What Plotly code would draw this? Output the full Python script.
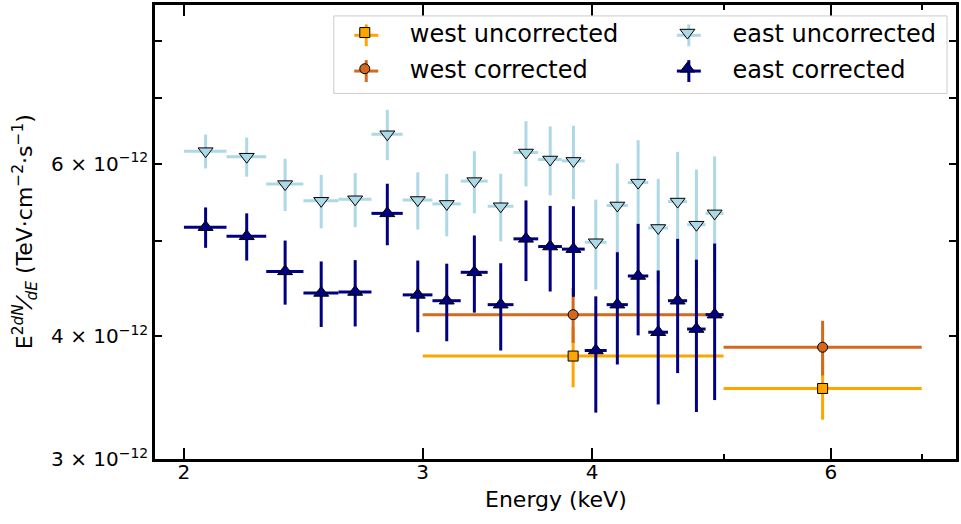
import plotly.graph_objects as go

# ---------------- data ----------------
east_energy = [2.075, 2.225, 2.375, 2.525, 2.675, 2.825, 2.975, 3.125, 3.275, 3.425,
               3.575, 3.725, 3.875, 4.025, 4.175, 4.325, 4.475, 4.625, 4.775, 4.925]
east_energy_err = [0.075] * 20

east_uncorr = [6.18e-12, 6.10e-12, 5.72e-12, 5.50e-12, 5.52e-12, 6.43e-12, 5.51e-12, 5.46e-12, 5.76e-12, 5.43e-12,
               6.16e-12, 6.06e-12, 6.04e-12, 4.99e-12, 5.44e-12, 5.74e-12, 5.16e-12, 5.49e-12, 5.20e-12, 5.34e-12]
east_uncorr_err = [0.245e-12, 0.28e-12, 0.35e-12, 0.345e-12, 0.35e-12, 0.38e-12, 0.37e-12, 0.40e-12, 0.42e-12, 0.43e-12,
                   0.47e-12, 0.49e-12, 0.52e-12, 0.525e-12, 0.565e-12, 0.60e-12, 0.63e-12, 0.68e-12, 0.72e-12, 0.765e-12]

east_corr = [5.17e-12, 5.06e-12, 4.66e-12, 4.43e-12, 4.44e-12, 5.34e-12, 4.41e-12, 4.35e-12, 4.65e-12, 4.31e-12,
             5.03e-12, 4.94e-12, 4.91e-12, 3.87e-12, 4.31e-12, 4.61e-12, 4.04e-12, 4.35e-12, 4.07e-12, 4.21e-12]
east_corr_err = [0.245e-12, 0.28e-12, 0.35e-12, 0.34e-12, 0.345e-12, 0.385e-12, 0.37e-12, 0.395e-12, 0.42e-12, 0.44e-12,
                 0.475e-12, 0.495e-12, 0.52e-12, 0.525e-12, 0.565e-12, 0.60e-12, 0.63e-12, 0.68e-12, 0.72e-12, 0.765e-12]

west_energy = [3.873, 5.916]
west_energy_err_minus = [0.873, 0.916]
west_energy_err_plus = [1.127, 1.084]

west_uncorr = [3.82e-12, 3.54e-12]
west_uncorr_err = [0.27e-12, 0.25e-12]
west_corr = [4.21e-12, 3.90e-12]
west_corr_err = [0.27e-12, 0.25e-12]

x_ticks = [2, 3, 4, 6]
x_ticklabels = ["2", "3", "4", "6"]
x_minor = [5, 7]
y_ticks = [3e-12, 4e-12, 6e-12]
y_ticklabels = ["3 × 10<sup>−12</sup>", "4 × 10<sup>−12</sup>", "6 × 10<sup>−12</sup>"]
y_minor = [5e-12, 7e-12, 8e-12]

FONT = "DejaVu Sans"
C_WU, C_WC, C_EU, C_EC = "#FFA500", "#D2691E", "#ADD8E6", "#000080"

fig = go.Figure()


def add_series(name, x, y, yerr, color, symbol, size, legend, xerr=None, xerr_minus=None, xerr_plus=None):
    if xerr is not None:
        ex = dict(type="data", array=xerr, color=color, thickness=3, width=0, symmetric=True)
    else:
        ex = dict(type="data", array=xerr_plus, arrayminus=xerr_minus, color=color,
                  thickness=3, width=0, symmetric=False)
    fig.add_trace(go.Scatter(
        x=x, y=y, mode="markers", name=name, legend=legend, legendgroup=name,
        marker=dict(color=color, symbol=symbol, size=size, line=dict(color="black", width=1)),
        error_y=dict(type="data", array=yerr, color=color, thickness=3, width=0),
        error_x=ex,
    ))


add_series("west uncorrected", west_energy, west_uncorr, west_uncorr_err, C_WU, "square", 10, "legend",
           xerr_minus=west_energy_err_minus, xerr_plus=west_energy_err_plus)
add_series("west corrected", west_energy, west_corr, west_corr_err, C_WC, "circle", 10, "legend",
           xerr_minus=west_energy_err_minus, xerr_plus=west_energy_err_plus)
add_series("east uncorrected", east_energy, east_uncorr, east_uncorr_err, C_EU, "triangle-down", 13, "legend2",
           xerr=east_energy_err)
add_series("east corrected", east_energy, east_corr, east_corr_err, C_EC, "triangle-up", 13, "legend2",
           xerr=east_energy_err)

legend_common = dict(
    orientation="v", yanchor="top", xanchor="left", y=0.988,
    bgcolor="rgba(0,0,0,0)", borderwidth=0,
    font=dict(family=FONT, size=24), itemwidth=80, tracegroupgap=2,
    traceorder="grouped",
)

# plot-area pixel geometry (for legend decoration in paper coords)
L, R, T, B = 155, 957, 2, 459
W, H = R - L, B - T


def px(xp):
    return (xp - L) / W


def py(yp):
    return (B - yp) / H


shapes = [
    dict(type="rect", xref="paper", yref="paper", x0=px(334), x1=px(948), y0=py(91), y1=py(13),
         line=dict(color="#cccccc", width=1), fillcolor="rgba(255,255,255,0.8)", layer="above"),
]
# error-bar crosses behind the legend markers
for cx, cy, col in [(366.5, 32.5, C_WU), (366.5, 68.5, C_WC), (689.5, 32.5, C_EU), (689.5, 68.5, C_EC)]:
    shapes.append(dict(type="line", xref="paper", yref="paper", x0=px(cx - 12), x1=px(cx + 12),
                       y0=py(cy), y1=py(cy), line=dict(color=col, width=3), layer="above"))
    shapes.append(dict(type="line", xref="paper", yref="paper", x0=px(cx), x1=px(cx),
                       y0=py(cy - 11), y1=py(cy + 11), line=dict(color=col, width=3), layer="above"))

fig.update_layout(
    width=961, height=524,
    margin=dict(l=155, r=4, t=2, b=65),
    paper_bgcolor="white", plot_bgcolor="white",
    font=dict(family=FONT, size=20, color="black"),
    showlegend=True,
    legend=dict(x=0.2057, **legend_common),
    legend2=dict(x=0.6085, **legend_common),
    xaxis=dict(
        type="log", range=[0.2797, 0.8704],
        tickvals=x_ticks, ticktext=x_ticklabels,
        ticks="inside", ticklen=11, tickwidth=2, tickcolor="black",
        minor=dict(tickvals=x_minor, ticks="inside", ticklen=5, tickwidth=1.5, tickcolor="black"),
        showline=True, linewidth=2.5, linecolor="black", mirror="ticks",
        showgrid=False, zeroline=False, ticklabelstandoff=-7,
        tickfont=dict(family=FONT, size=20),
    ),
    yaxis=dict(
        type="log", range=[-11.5229, -11.0600],
        tickvals=y_ticks, ticktext=y_ticklabels,
        ticks="inside", ticklen=7, tickwidth=1.5, tickcolor="black",
        minor=dict(tickvals=y_minor, ticks="inside", ticklen=7, tickwidth=1.5, tickcolor="black"),
        showline=True, linewidth=2.5, linecolor="black", mirror="ticks",
        showgrid=False, zeroline=False,
        tickfont=dict(family=FONT, size=20),
    ),
    shapes=shapes,
    annotations=[
        dict(text="Energy (keV)", xref="paper", yref="paper", x=0.5, y=-0.09,
             xanchor="center", yanchor="middle", showarrow=False,
             font=dict(family=FONT, size=22)),
        dict(text="E<sup>2</sup><i><sup>dN</sup>⁄<sub>dE</sub></i> (TeV·cm<sup>−2</sup>·s<sup>−1</sup>)",
             xref="paper", yref="paper", x=-0.162, y=0.5, textangle=-90,
             xanchor="center", yanchor="middle", showarrow=False,
             font=dict(family=FONT, size=22)),
    ],
)

fig.write_html("out.html")
